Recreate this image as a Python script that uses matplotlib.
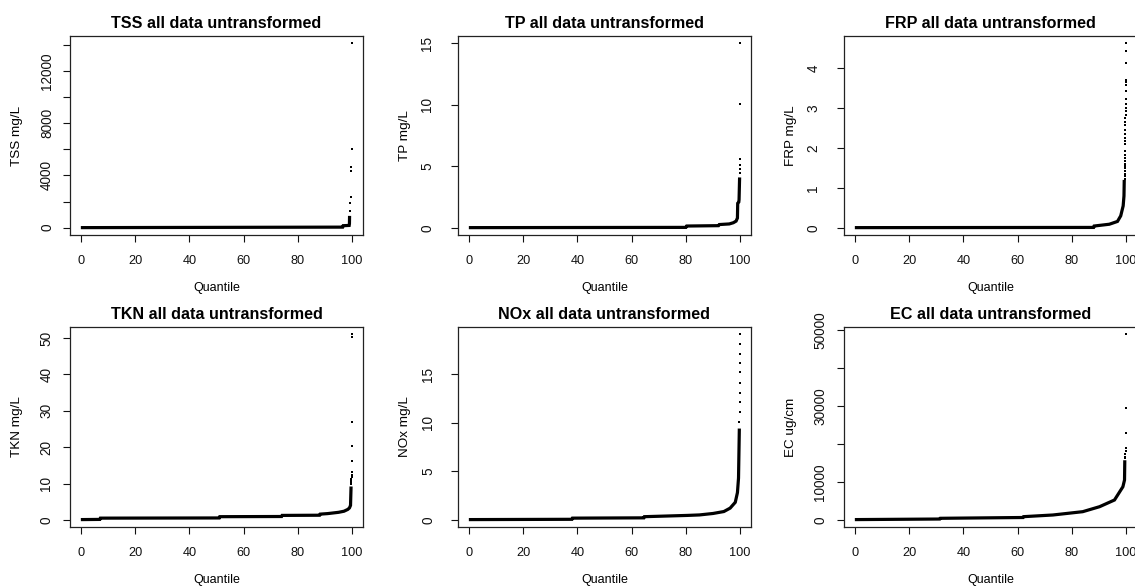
import matplotlib
matplotlib.use("Agg")
import matplotlib.pyplot as plt

plt.rcParams["font.family"] = ["Liberation Sans", "DejaVu Sans"]

# quantile plots: dense body read as knots, isolated points listed on their own
tss_q = [0, 96.5, 96.7, 98.9, 99.0, 99.05]
tss_v = [2, 40, 150, 170, 300, 900]
tss_out_q = [99.1, 99.3, 99.4, 99.6, 99.7, 99.85, 100]
tss_out_v = [1300, 1910, 2320, 4300, 4610, 6000, 14100]

tp_q = [0, 80.0, 80.3, 92.0, 92.3, 96.0, 97.5, 98.5, 99.0, 99.1, 99.5, 99.6, 99.8]
tp_v = [0.02, 0.04, 0.15, 0.18, 0.27, 0.32, 0.42, 0.55, 0.8, 2.0, 2.1, 2.3, 4.1]
tp_out_q = [99.84, 99.88, 99.92, 99.96, 99.98, 100]
tp_out_v = [4.45, 4.78, 5.1, 5.6, 10.05, 15.0]

frp_q = [0, 88.0, 88.2, 93.8, 96.8, 98.0, 98.9, 99.2, 99.3]
frp_v = [0.005, 0.01, 0.045, 0.09, 0.16, 0.3, 0.55, 0.8, 1.2]
frp_out_q = [99.40, 99.42, 99.44, 99.46, 99.48, 99.50, 99.52, 99.54, 99.56,
             99.58, 99.60, 99.62, 99.64, 99.66, 99.68, 99.70, 99.72, 99.74,
             99.76, 99.78, 99.80, 99.82, 99.84, 99.86, 99.88, 99.90, 99.92,
             99.94, 99.96, 99.98, 100]
frp_out_v = [1.22, 1.30, 1.36, 1.43, 1.50, 1.55, 1.61, 1.68, 1.76, 1.83,
             1.93, 2.10, 2.18, 2.26, 2.36, 2.45, 2.58, 2.66, 2.75, 2.83,
             2.93, 3.01, 3.11, 3.22, 3.42, 3.58, 3.64, 3.70, 4.13, 4.44, 4.62]

tkn_q = [0, 7.0, 7.2, 51.0, 51.2, 74.0, 74.2, 88.0, 88.2, 91.0, 95.0, 97.0,
         98.4, 99.0, 99.4, 99.6]
tkn_v = [0.1, 0.15, 0.5, 0.55, 0.9, 0.95, 1.25, 1.3, 1.6, 1.75, 2.1, 2.4,
         2.9, 3.3, 4.0, 9.2]
tkn_out_q = [99.62, 99.66, 99.70, 99.74, 99.78, 99.82, 99.86, 99.90, 99.93,
             99.96, 99.98, 100]
tkn_out_v = [9.8, 10.3, 10.8, 11.3, 11.9, 12.4, 13.3, 16.3, 20.3, 27.0, 50.2, 51.0]

nox_q = [0, 38.0, 38.2, 64.5, 64.7, 80.5, 85.0, 90.0, 94.0, 96.3, 98.2, 99.0,
         99.4, 99.7]
nox_v = [0.02, 0.05, 0.17, 0.2, 0.32, 0.45, 0.5, 0.65, 0.85, 1.2, 1.8, 2.8,
         4.3, 9.4]
nox_out_q = [99.75, 99.78, 99.81, 99.84, 99.87, 99.90, 99.93, 99.95, 99.98, 100]
nox_out_v = [10.1, 11.1, 12.1, 13.1, 14.1, 15.2, 16.2, 17.1, 18.1, 19.1]

ec_q = [0, 31.3, 31.5, 62.0, 62.2, 73.0, 84.0, 90.2, 95.7, 98.8, 99.4, 99.5]
ec_v = [100, 250, 440, 650, 870, 1310, 2180, 3490, 5250, 8730, 10500, 15700]
ec_out_q = [99.6, 99.7, 99.75, 99.8, 99.85, 99.9, 99.95, 100]
ec_out_v = [16200, 16600, 17300, 18000, 18800, 22900, 29550, 48780]

names = ["TSS", "TP", "FRP", "TKN", "NOx", "EC"]
units = ["mg/L", "mg/L", "mg/L", "mg/L", "mg/L", "ug/cm"]
yticks = [
    [0, 2000, 4000, 6000, 8000, 10000, 12000, 14000],
    [0, 5, 10, 15],
    [0, 1, 2, 3, 4],
    [0, 10, 20, 30, 40, 50],
    [0, 5, 10, 15],
    [0, 10000, 20000, 30000, 40000, 50000],
]
ylabels_shown = [
    ["0", "", "4000", "", "8000", "", "12000", ""],
    ["0", "5", "10", "15"],
    ["0", "1", "2", "3", "4"],
    ["0", "10", "20", "30", "40", "50"],
    ["0", "5", "10", "15"],
    ["0", "10000", "", "30000", "", "50000"],
]
xticks = [0, 20, 40, 60, 80, 100]
series = [
    (tss_q, tss_v, tss_out_q, tss_out_v),
    (tp_q, tp_v, tp_out_q, tp_out_v),
    (frp_q, frp_v, frp_out_q, frp_out_v),
    (tkn_q, tkn_v, tkn_out_q, tkn_out_v),
    (nox_q, nox_v, nox_out_q, nox_out_v),
    (ec_q, ec_v, ec_out_q, ec_out_v),
]

W, H = 1135, 588
fig = plt.figure(figsize=(W / 100, H / 100), dpi=100)

col_left = [70, 458, 844]
row_top = [36, 327]
row_h = [199, 200]
ax_w = 293
ypad = [6.5, 12, 12, 7, 11.5, 7]

for i, (name, unit) in enumerate(zip(names, units)):
    r, c = divmod(i, 3)
    left = col_left[c] / W
    bottom = 1 - (row_top[r] + row_h[r]) / H
    ax = fig.add_axes([left, bottom, ax_w / W, row_h[r] / H])
    q, v, oq, ov = series[i]
    ax.plot(q, v, color="black", lw=2.3, solid_capstyle="butt",
            solid_joinstyle="miter")
    ax.plot(oq, ov, ls="none", marker="s", ms=1.75, color="black", mew=0)
    ax.margins(0.04)
    ax.set_xticks(xticks)
    ax.set_yticks(yticks[i])
    ax.set_yticklabels(ylabels_shown[i], rotation=90, va="center")
    ax.tick_params(direction="out", length=5, width=0.8, colors="#111111")
    ax.tick_params(axis="x", pad=9.5, labelsize=9.2)
    ax.tick_params(axis="y", pad=ypad[i], labelsize=9.8)
    for s in ax.spines.values():
        s.set_linewidth(0.9)
        s.set_color("#222222")
    ax.set_title(f"{name} all data untransformed", fontsize=11.6,
                 fontweight="bold", pad=6)
    ax.set_xlabel("Quantile", fontsize=9)
    ax.set_ylabel(f"{name} {unit}", fontsize=9.7)
    ax.xaxis.set_label_coords(0.5, -53 / row_h[r])
    ax.xaxis.label.set_va("center")
    ax.yaxis.set_label_coords(-53 / ax_w, 0.5)
    ax.yaxis.label.set_va("center")

fig.savefig("out.png", dpi=100, facecolor="white")
